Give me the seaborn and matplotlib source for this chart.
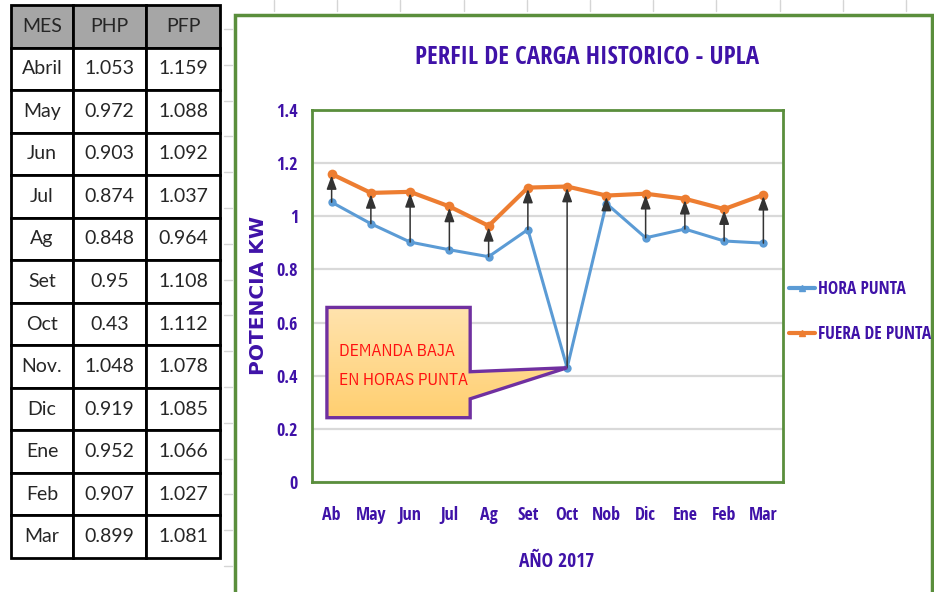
import numpy as np
import pandas as pd
import seaborn as sns
import matplotlib.pyplot as plt
from matplotlib.patches import Rectangle, Polygon
from matplotlib.lines import Line2D
from matplotlib.colors import LinearSegmentedColormap

meses_tabla = ['Abril', 'May', 'Jun', 'Jul', 'Ag', 'Set', 'Oct', 'Nov.', 'Dic', 'Ene', 'Feb', 'Mar']
meses_eje = ['Ab', 'May', 'Jun', 'Jul', 'Ag', 'Set', 'Oct', 'Nob', 'Dic', 'Ene', 'Feb', 'Mar']
php = [1.053, 0.972, 0.903, 0.874, 0.848, 0.95, 0.43, 1.048, 0.919, 0.952, 0.907, 0.899]
pfp = [1.159, 1.088, 1.092, 1.037, 0.964, 1.108, 1.112, 1.078, 1.085, 1.066, 1.027, 1.081]
columnas = ['MES', 'PHP', 'PFP']
y_ticks = [0, 0.2, 0.4, 0.6, 0.8, 1.0, 1.2, 1.4]
series = ['HORA PUNTA', 'FUERA DE PUNTA']

sns.set_style('white')
plt.rcParams['font.family'] = ['Open Sans Condensed', 'DejaVu Sans']

PURPLE = '#3F12A8'
GREEN = '#5A8E3C'
BLUE = '#5B9BD5'
ORANGE = '#ED7D31'
W, H = 934, 592

fig = plt.figure(figsize=(9.34, 5.92), dpi=100)

# faint spreadsheet cell ticks behind the chart
for yy in np.arange(29, 592, 35.8):
    fig.add_artist(Line2D([224 / W, 232 / W], [1 - yy / H] * 2, color='#D5D5D5', lw=1))
for xx in np.arange(274, 934, 63.2):
    fig.add_artist(Line2D([xx / W] * 2, [1, 1 - 11 / H], color='#D5D5D5', lw=1))

# ---- table ----
tax = fig.add_axes([11 / W, 1 - 558 / H, 209 / W, 553 / H])
tax.axis('off')
filas = [[m, f'{a:g}', f'{b:g}'] for m, a, b in zip(meses_tabla, php, pfp)]
tabla = tax.table(cellText=filas, colLabels=columnas, bbox=[0, 0, 1, 1],
                  colWidths=[62 / 209, 73 / 209, 74 / 209], cellLoc='center')
tabla.auto_set_font_size(False)
for (r, c), cell in tabla.get_celld().items():
    cell.set_linewidth(2)
    cell.set_edgecolor('black')
    cell.get_text().set_fontfamily('Lato')
    cell.get_text().set_fontsize(14)
    if r == 0:
        cell.set_facecolor('#A6A6A6')
    elif c > 0:
        cell._loc = 'right'
        cell.PAD = 0.12

# ---- chart frame ----
fig.add_artist(Rectangle((235 / W, -0.05), (932 - 235) / W, (1 - 15 / H) + 0.05,
                         transform=fig.transFigure, fill=False, ec=GREEN, lw=2.5))

ax = fig.add_axes([312 / W, 1 - 482 / H, 471 / W, 372 / H])
pos = list(range(len(meses_eje)))
df = pd.DataFrame({'pos': pos * 2, 'kw': php + pfp,
                   'serie': [series[0]] * 12 + [series[1]] * 12})

sns.lineplot(data=df[df.serie == series[0]], x='pos', y='kw', color=BLUE, lw=2.2,
             marker='o', markersize=6, markeredgewidth=0, ax=ax, zorder=4)
sns.lineplot(data=df[df.serie == series[1]], x='pos', y='kw', color=ORANGE, lw=3,
             marker='o', markersize=7, markeredgewidth=0, ax=ax, zorder=4)

# arrows from hora punta up to fuera de punta
for i, (a, b) in enumerate(zip(php, pfp)):
    ax.annotate('', xy=(i, b), xytext=(i, a),
                arrowprops=dict(arrowstyle='-|>,head_length=0.55,head_width=0.2',
                                color='#333333', lw=1.1, mutation_scale=15,
                                shrinkA=0, shrinkB=1), zorder=5)

ax.set_xlim(-0.5, 11.5)
ax.set_ylim(0, 1.4)
ax.set_yticks(y_ticks, [f'{v:g}' for v in y_ticks])
ax.set_xticks(pos, meses_eje)
ax.tick_params(length=0, labelcolor=PURPLE, labelsize=13)
ax.tick_params(axis='y', pad=10)
ax.tick_params(axis='x', pad=17)
for lab in ax.get_xticklabels() + ax.get_yticklabels():
    lab.set_fontweight('bold')
ax.set_xlabel('')
ax.set_ylabel('')
ax.yaxis.grid(True, color='#D9D9D9', lw=1.6)
ax.set_axisbelow(True)
for s in ax.spines.values():
    s.set_color(GREEN)
    s.set_linewidth(2)

# callout box pointing at the October dip
i_oct = meses_eje.index('Oct')
verts = [(-0.12, 0.242), (-0.12, 0.657), (3.53, 0.657), (3.53, 0.415),
         (i_oct, php[i_oct]), (3.53, 0.313), (3.53, 0.242)]
callout = Polygon(verts, closed=True, fc='none', ec='#7030A0', lw=2.4, zorder=6,
                  joinstyle='miter')
ax.add_patch(callout)
grad = np.linspace(0, 1, 100).reshape(-1, 1)
cmap = LinearSegmentedColormap.from_list('c', ['#FFE3AE', '#FFCF70'])
img = ax.imshow(grad, extent=[-0.12, i_oct, 0.242, 0.657], aspect='auto',
                cmap=cmap, origin='upper', zorder=5.5)
img.set_clip_path(callout)
ax.set_xlim(-0.5, 11.5)
ax.set_ylim(0, 1.4)
ax.text(0.2, 0.44, 'DEMANDA BAJA\nEN HORAS PUNTA', color='#FF1010', fontsize=12.5,
        family='IBM Plex Sans Condensed', va='center', ha='left', linespacing=2.0, zorder=7)

# texts
fig.text(587 / W, 1 - 58 / H, 'PERFIL DE CARGA HISTORICO - UPLA', color=PURPLE,
         fontsize=18, fontweight='bold', ha='center', va='center')
fig.text(259 / W, 1 - 295 / H, 'POTENCIA KW', color=PURPLE, fontsize=14.5,
         family='DejaVu Sans', fontweight='bold', rotation=90, ha='center', va='center')
fig.text(557 / W, 1 - 562 / H, 'AÑO 2017', color=PURPLE, fontsize=14,
         fontweight='bold', ha='center', va='center')

handles = [Line2D([], [], color=BLUE, lw=3, marker='^', markersize=5),
           Line2D([], [], color=ORANGE, lw=3, marker='^', markersize=5)]
leg = fig.legend(handles, series, loc='upper left', bbox_to_anchor=(789 / W, 1 - 280 / H),
                 frameon=False, handlelength=1.5, handletextpad=0.15, labelspacing=1.55,
                 borderpad=0, borderaxespad=0, prop={'weight': 'bold', 'size': 12.5})
for t in leg.get_texts():
    t.set_color(PURPLE)

fig.savefig('out.png', dpi=100)
